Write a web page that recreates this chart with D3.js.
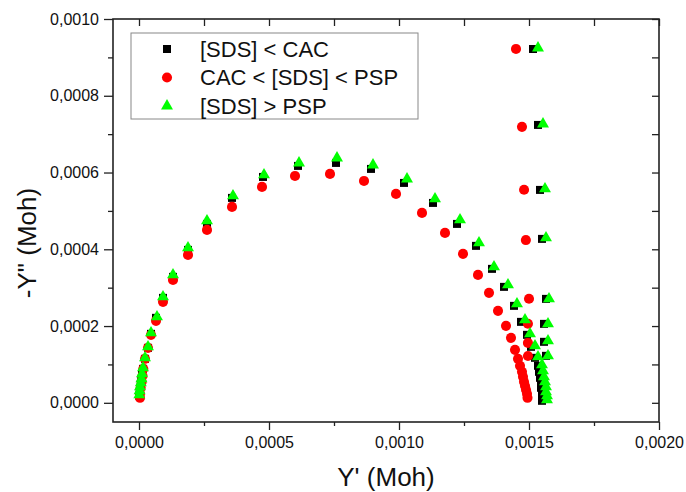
<!DOCTYPE html>
<html><head><meta charset="utf-8">
<script src="https://cdn.jsdelivr.net/npm/d3@7"></script>
<style>body{margin:0;background:#fff}svg{display:block}text{font-family:"Liberation Sans",Arial,sans-serif}</style>
</head><body><svg id="c" width="686" height="492"></svg>
<script>
const seriesNames = ["[SDS] < CAC", "CAC < [SDS] < PSP", "[SDS] > PSP"];
const seriesColors = ["#000000", "#ff0000", "#00ff00"];
const xTicks = [0, 0.0005, 0.001, 0.0015, 0.002];
const yTicks = [0, 0.0002, 0.0004, 0.0006, 0.0008, 0.001];

const blackX = [0.0000012,0.0000027,0.0000046,0.0000069,0.0000088,0.0000115,0.0000154,0.0000231,0.0000346,0.0000462,0.0000654,0.0000923,0.0001308,0.0001885,0.0002615,0.0003577,0.0004769,0.0006115,0.0007577,0.0008923,0.0010192,0.0011308,0.0012231,0.0012962,0.0013577,0.0014038,0.0014423,0.0014692,0.0014923,0.0015077,0.0015231,0.0015346,0.0015385,0.0015423,0.0015462,0.0015462,0.0015500,0.0015500,0.0015500,
  0.0015154,0.0015346,0.0015423,0.0015500,0.0015654,0.0015577,0.0015577,0.0015654];
const blackY = [0.0000182,0.0000286,0.0000391,0.0000495,0.0000599,0.0000729,0.0000885,0.0001146,0.0001432,0.0001797,0.0002214,0.0002734,0.0003281,0.0003984,0.0004661,0.0005339,0.0005885,0.0006172,0.0006250,0.0006094,0.0005729,0.0005208,0.0004661,0.0004089,0.0003490,0.0003021,0.0002526,0.0002109,0.0001771,0.0001458,0.0001172,0.0000964,0.0000807,0.0000651,0.0000521,0.0000391,0.0000260,0.0000156,0.0000052,
  0.0009219,0.0007240,0.0005547,0.0004271,0.0002708,0.0002057,0.0001589,0.0001224];

const redX = [0.0000038,0.0000038,0.0000065,0.0000104,0.0000135,0.0000165,0.0000231,0.0000346,0.0000462,0.0000654,0.0000923,0.0001308,0.0001885,0.0002615,0.0003577,0.0004731,0.0006000,0.0007346,0.0008654,0.0009885,0.0010885,0.0011769,0.0012462,0.0013038,0.0013462,0.0013808,0.0014115,0.0014308,0.0014462,0.0014577,0.0014654,0.0014731,0.0014769,0.0014808,0.0014846,0.0014885,0.0014923,0.0014942,
  0.0014500,0.0014730,0.0014810,0.0014880,0.0015000,0.0014960,0.0014960,0.0014960];
const redY = [0.0000130,0.0000234,0.0000391,0.0000547,0.0000703,0.0000885,0.0001146,0.0001432,0.0001771,0.0002135,0.0002630,0.0003203,0.0003854,0.0004505,0.0005104,0.0005625,0.0005911,0.0005964,0.0005781,0.0005443,0.0004948,0.0004427,0.0003880,0.0003333,0.0002865,0.0002396,0.0002005,0.0001693,0.0001380,0.0001146,0.0000964,0.0000807,0.0000677,0.0000547,0.0000443,0.0000339,0.0000234,0.0000130,
  0.0009220,0.0007190,0.0005550,0.0004240,0.0002710,0.0002060,0.0001560,0.0001220];

const greenX = [0.0000012,0.0000023,0.0000038,0.0000069,0.0000096,0.0000115,0.0000154,0.0000231,0.0000346,0.0000462,0.0000692,0.0000923,0.0001308,0.0001885,0.0002615,0.0003615,0.0004808,0.0006154,0.0007615,0.0009000,0.0010308,0.0011385,0.0012346,0.0013077,0.0013654,0.0014192,0.0014538,0.0014846,0.0015038,0.0015231,0.0015346,0.0015500,0.0015538,0.0015577,0.0015615,0.0015654,0.0015654,0.0015692,0.0015692,
  0.0015346,0.0015538,0.0015615,0.0015654,0.0015769,0.0015731,0.0015731,0.0015731];
const greenY = [0.0000208,0.0000313,0.0000417,0.0000521,0.0000625,0.0000755,0.0000911,0.0001172,0.0001458,0.0001823,0.0002240,0.0002760,0.0003333,0.0004036,0.0004740,0.0005391,0.0005938,0.0006250,0.0006380,0.0006198,0.0005833,0.0005313,0.0004766,0.0004167,0.0003542,0.0003073,0.0002578,0.0002161,0.0001797,0.0001484,0.0001198,0.0000990,0.0000833,0.0000677,0.0000547,0.0000417,0.0000286,0.0000182,0.0000078,
  0.0009245,0.0007266,0.0005573,0.0004297,0.0002708,0.0002057,0.0001615,0.0001224];

const svg = d3.select("#c");
const L = 113, R = 659, T = 19, B = 422;
const x = d3.scaleLinear().domain([-0.0001, 0.002]).range([L, R]);
const y = d3.scaleLinear().domain([-0.00005, 0.001]).range([B, T]);
const fmt = v => d3.format(".4f")(v).replace(".", ",");

const xMinor = d3.range(0.00025, 0.002, 0.0005);
const yMinor = d3.range(0.0001, 0.001, 0.0002);
const xAll = d3.range(0, 0.00201, 0.00025);
const yAll = d3.range(0, 0.001001, 0.0001);

function styleAxis(g){ g.select(".domain").remove(); g.selectAll("line").attr("stroke","#222").attr("stroke-width",1.3); g.selectAll("text").attr("fill","#111").attr("font-size",16); }

// bottom
svg.append("g").attr("transform",`translate(0,${B})`).call(d3.axisBottom(x).tickValues(xTicks).tickFormat(fmt).tickSize(8).tickPadding(7)).call(styleAxis);
svg.append("g").attr("transform",`translate(0,${B})`).call(d3.axisBottom(x).tickValues(xMinor).tickFormat("").tickSize(4)).call(styleAxis);
// left
svg.append("g").attr("transform",`translate(${L},0)`).call(d3.axisLeft(y).tickValues(yTicks).tickFormat(fmt).tickSize(9).tickPadding(5)).call(styleAxis);
svg.append("g").attr("transform",`translate(${L},0)`).call(d3.axisLeft(y).tickValues(yMinor).tickFormat("").tickSize(5)).call(styleAxis);
// top (inward)
svg.append("g").attr("transform",`translate(0,${T})`).call(d3.axisTop(x).tickValues(xAll).tickFormat("").tickSize(-7)).call(styleAxis);
// right (inward)
svg.append("g").attr("transform",`translate(${R},0)`).call(d3.axisRight(y).tickValues(yAll).tickFormat("").tickSize(-7)).call(styleAxis);

svg.append("rect").attr("x",L).attr("y",T).attr("width",R-L).attr("height",B-T)
  .attr("fill","none").attr("stroke","#222").attr("stroke-width",1.6);

const symTypes = [d3.symbolSquare, d3.symbolCircle, d3.symbolTriangle];
const symSizes = [64, 80, 62];
const allX = [blackX, redX, greenX], allY = [blackY, redY, greenY];

allX.forEach((xs, i) => {
  const pts = xs.map((v, j) => [v, allY[i][j]]);
  svg.append("g").selectAll("path").data(pts).join("path")
    .attr("d", d3.symbol().type(symTypes[i]).size(symSizes[i]))
    .attr("transform", d => `translate(${x(d[0])},${y(d[1])})`)
    .attr("fill", seriesColors[i]);
});

// legend
const lg = svg.append("g");
lg.append("rect").attr("x",131).attr("y",33).attr("width",287).attr("height",86)
  .attr("fill","#fff").attr("stroke","#888").attr("stroke-width",1);
seriesNames.forEach((n, i) => {
  const cy = 49 + i * 28.5;
  lg.append("path").attr("d", d3.symbol().type(symTypes[i]).size(symSizes[i]))
    .attr("transform", `translate(167,${cy})`).attr("fill", seriesColors[i]);
  lg.append("text").attr("x",200).attr("y",cy).attr("dy","0.36em")
    .attr("font-size",22).attr("fill","#111").text(n);
});

// titles
svg.append("text").attr("x",386).attr("y",486).attr("text-anchor","middle")
  .attr("font-size",26).attr("fill","#111").text("Y' (Moh)");
svg.append("text").attr("transform","translate(36,243) rotate(-90)").attr("text-anchor","middle")
  .attr("font-size",26).attr("fill","#111").text("-Y\" (Moh)");
</script></body></html>
